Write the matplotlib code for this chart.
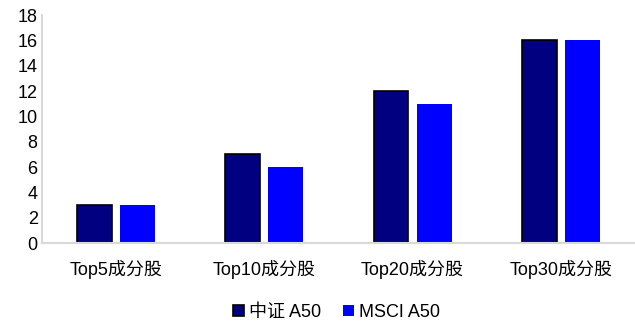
import matplotlib.pyplot as plt
import numpy as np

plt.rcParams['font.family'] = ['Liberation Sans', 'Noto Sans CJK SC']

categories = ['Top5成分股', 'Top10成分股', 'Top20成分股', 'Top30成分股']
csi_a50 = [3, 7, 12, 16]
msci_a50 = [3, 6, 11, 16]

fig = plt.figure(figsize=(6.35, 3.22), dpi=100)
ax = fig.add_axes([0.066, 0.245, 0.934, 0.708])

x = np.arange(len(categories))
w = 0.235
ax.bar(x - w / 2 - 0.028, csi_a50, w, color='#000080', edgecolor='black', linewidth=1.2, label='中证 A50')
ax.bar(x + w / 2 + 0.028, msci_a50, w, color='#0000FF', label='MSCI A50')

ax.set_xlim(-0.5, 3.5)
ax.set_ylim(0, 18)
ax.set_yticks(range(0, 19, 2))
ax.set_xticks(x)
ax.set_xticklabels(categories)
ax.tick_params(axis='both', length=0, labelsize=13)
ax.tick_params(axis='x', pad=12)
ax.tick_params(axis='y', pad=3)
for s in ['top', 'right']:
    ax.spines[s].set_visible(False)
for s in ['left', 'bottom']:
    ax.spines[s].set_color('#d9d9d9')
    ax.spines[s].set_linewidth(1.5)

fig.legend(loc='center', bbox_to_anchor=(0.53, 0.03), ncol=2, frameon=False,
           fontsize=13, handlelength=0.6, handleheight=0.6, handletextpad=0.3,
           columnspacing=1.2)

fig.savefig('out.png', dpi=100)
